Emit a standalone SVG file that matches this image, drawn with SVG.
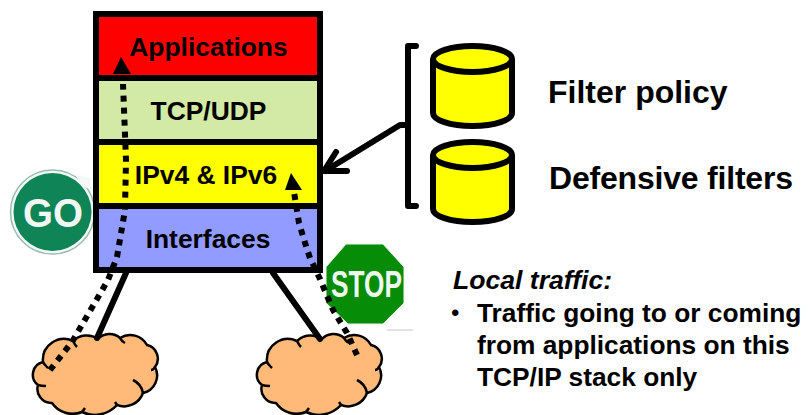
<svg xmlns="http://www.w3.org/2000/svg" xmlns:xlink="http://www.w3.org/1999/xlink" width="810" height="415" viewBox="0 0 810 415">
<style>
text{font-family:"Liberation Sans",Arial,sans-serif;font-weight:bold;fill:#000}
.lbl{font-size:26.4px;text-anchor:middle}
.big{font-size:32px}
.body{font-size:26.3px}
.layer{stroke:#000;stroke-width:6}
.solid{fill:none;stroke:#000;stroke-width:6;stroke-linecap:round;stroke-linejoin:round}
.dots{fill:none;stroke:#000;stroke-width:6;stroke-dasharray:6 6}
.cyl{fill:#ff0;stroke:#000;stroke-width:6}
.cloud{fill:#ffb978;stroke:#000;stroke-width:2.5;stroke-linejoin:round}
.tick{fill:none;stroke:#000;stroke-width:2.5}
</style>
<defs>
<g id="cloudShape">
<path class="cloud" d="M38,385 A13,13 0 0 1 43,362 A21,21 0 0 1 73,341 A20,20 0 0 1 98,339 A16,16 0 0 1 120,338 A19,19 0 0 1 147,345 A14,14 0 0 1 155,367 A18,18 0 0 1 143,393 A20,20 0 0 1 117,405 A30,30 0 0 1 82,412 A25,25 0 0 1 52,403 A14,14 0 0 1 38,385 Z"/>
<path class="tick" d="M38,385 C41,386 43,386 46,386 M43,362 C44,364 46,366 48,368 M73,341 C74,343 75,345 77,347 M120,338 C121,340 123,342 125,343 M155,367 C154,369 152,370 151,370 M133,380 A18,18 0 0 1 143,393 M117,405 L115,402 M82,412 L85,408"/>
</g>
</defs>

<g id="cloud-left"><use href="#cloudShape" xlink:href="#cloudShape"/></g>
<g id="cloud-right"><use href="#cloudShape" xlink:href="#cloudShape" transform="translate(224 0)"/></g>

<g id="go-sign">
<circle cx="52.5" cy="212" r="42" fill="#f4f8f6" stroke="#9bbcae" stroke-width="1.5"/>
<circle cx="52.5" cy="212" r="39" fill="#0f8457"/>
<path d="M76,174 C78,184 84,187 92,190 L90,178 Z" fill="#f4f8f6"/>
<text x="53" y="227" text-anchor="middle" style="font-size:41px;fill:#f2f7f4" textLength="60" lengthAdjust="spacingAndGlyphs">GO</text>
</g>

<g id="layer-applications"><rect class="layer" x="96" y="14" width="224" height="64" fill="#f00"/><text class="lbl" x="208.500" y="56">Applications</text></g>
<g id="layer-tcpudp"><rect class="layer" x="96" y="78" width="224" height="64" fill="#d2eaa5"/><text class="lbl" x="208.500" y="120">TCP/UDP</text></g>
<g id="layer-ip"><rect class="layer" x="96" y="142" width="224" height="64" fill="#ff0"/><text class="lbl" x="206" y="184">IPv4 &amp; IPv6</text></g>
<g id="layer-interfaces"><rect class="layer" x="96" y="206" width="224" height="64" fill="#929bff"/><text class="lbl" x="208" y="248">Interfaces</text></g>

<g id="stop-sign">
<polygon points="346,244 383,244 404,267 404,303 383,324 348,324 326,303 326,267" fill="#078c07" stroke="#eef5ee" stroke-width="1"/>
<text x="366.500" y="297" text-anchor="middle" style="font-size:37px;fill:#eef8ee" textLength="71" lengthAdjust="spacingAndGlyphs">STOP</text>
<path d="M387,330 H413" stroke="#c4c4c4" stroke-width="1"/>
</g>

<g id="db-filter-policy">
<path class="cyl" d="M433,59 V113 C433,120 450,126 472.500,126 C495,126 512,120 512,113 V59"/>
<ellipse class="cyl" cx="472.500" cy="59" rx="39.500" ry="13"/>
</g>
<g id="db-defensive-filters">
<path class="cyl" d="M433,155 V209 C433,216 450,222 472.500,222 C495,222 512,216 512,209 V155"/>
<ellipse class="cyl" cx="472.500" cy="155" rx="39.500" ry="13"/>
</g>

<g id="connectors">
<path class="solid" d="M126,273 L97,338"/>
<path class="solid" d="M273,273 L320,339"/>
<path class="solid" d="M416,46 H408 V206 H416"/>
<path class="solid" d="M408,125 H400 L325,171"/>
<path class="solid" d="M336,152 L324,171 H347"/>
<path class="dots" d="M50,370 L72,342 L108,280 L117,257 L125,210 L126,160 L123,84"/>
<polygon points="121,57 113,74 131,74" fill="#000"/>
<path class="dots" d="M357,355 L347,333 L333,310 L320,279 L310,258 L306,246 L299,223 L294,192"/>
<polygon points="291,173 285,190 302,190" fill="#000"/>
</g>

<g id="labels">
<text class="big" x="548" y="103">Filter policy</text>
<text class="big" x="549" y="189" textLength="244">Defensive filters</text>
<text x="453" y="289" font-style="italic" style="font-size:26.6px">Local traffic:</text>
<text x="451" y="321" style="font-weight:normal;font-size:24px">•</text>
<text class="body" x="477" y="322">Traffic going to or coming</text>
<text class="body" x="477" y="354">from applications on this</text>
<text class="body" x="477" y="386">TCP/IP stack only</text>
</g>
</svg>
